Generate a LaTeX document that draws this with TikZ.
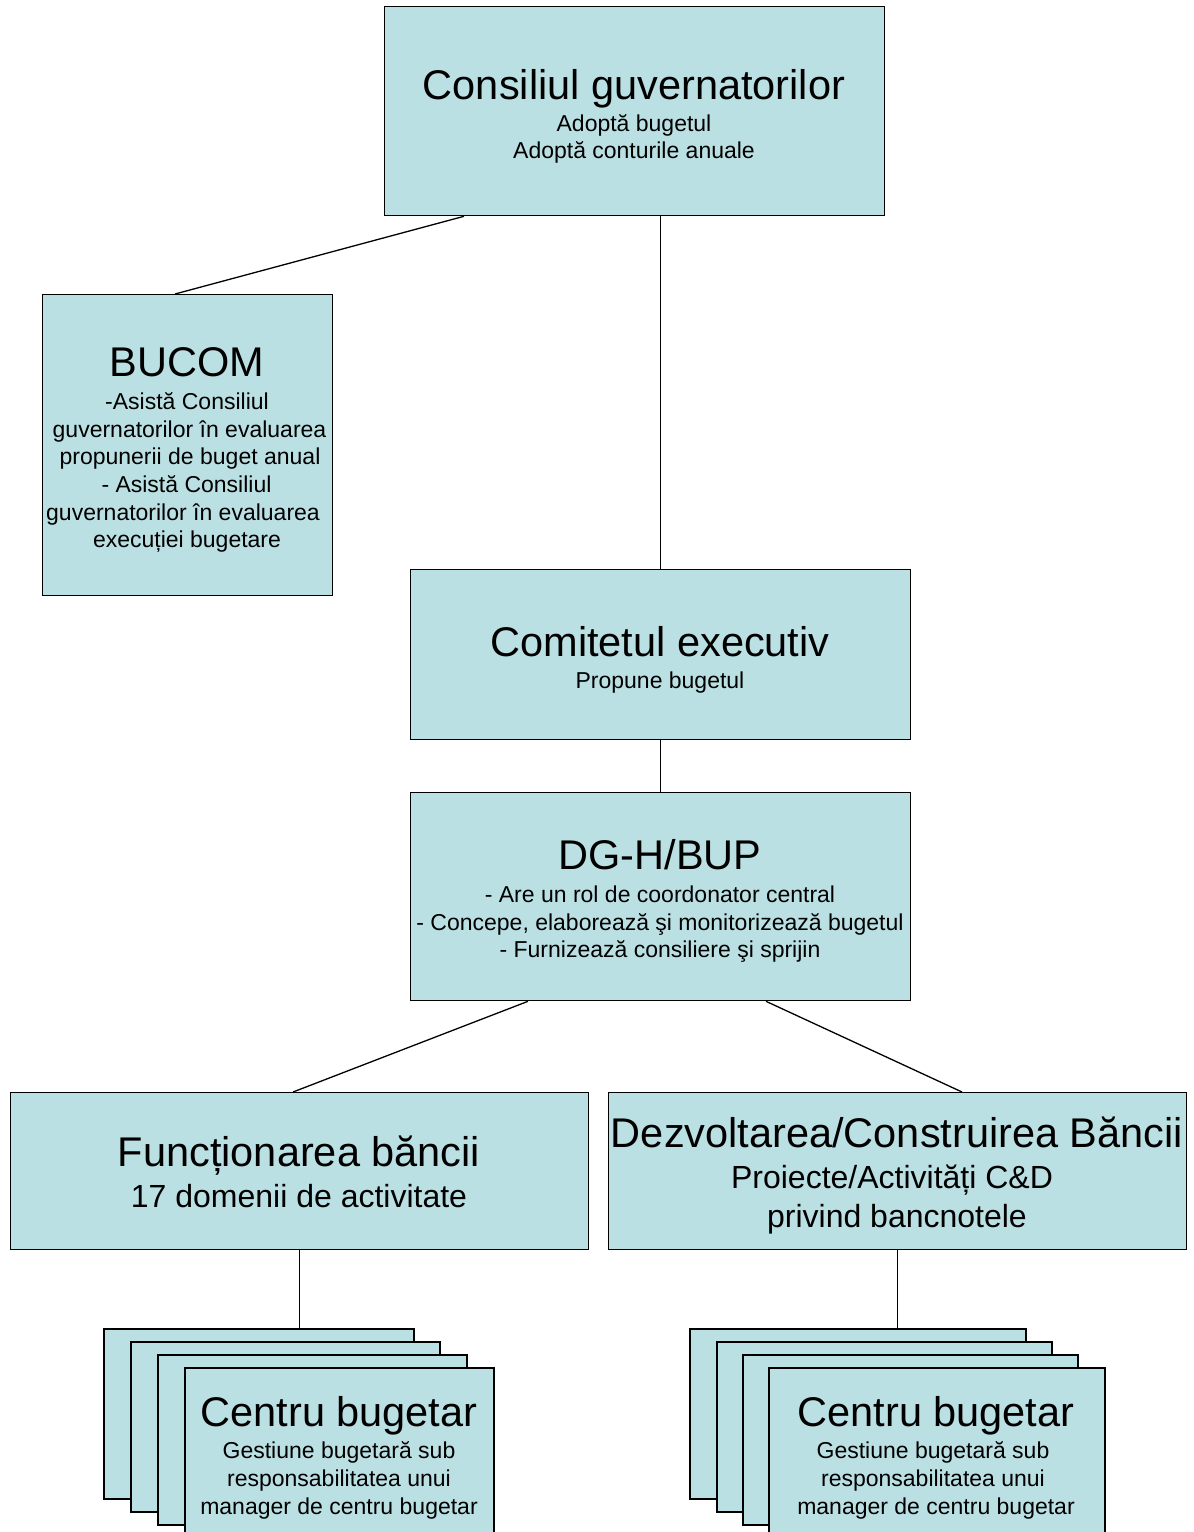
\documentclass[tikz,border=0pt]{standalone}
\usepackage{fontspec}
\setmainfont{Liberation Sans}
\usetikzlibrary{calc}
\definecolor{boxfill}{HTML}{BBE0E3}
\tikzset{
  box/.style={draw=black, fill=boxfill, line width=1.3pt, inner sep=0pt, anchor=north west},
  stackbox/.style={box, line width=2pt},
  conn/.style={draw=black, line width=1.3pt},
  ttl/.style={anchor=base, inner sep=0pt, font=\fontsize{41.5}{48}\selectfont},
  mid/.style={anchor=base, inner sep=0pt, font=\fontsize{32}{39}\selectfont},
  sub/.style={anchor=base, inner sep=0pt, font=\fontsize{23}{27.5}\selectfont}
}
\begin{document}
\begin{tikzpicture}[x=1pt,y=-1pt]
\useasboundingbox (0,0) rectangle (1194,1532);
% boxes
\node[box, minimum width=500, minimum height=209] (cg) at (384,6) {};
\node[box, minimum width=290, minimum height=301] (bu) at (42,294) {};
\node[box, minimum width=500, minimum height=170] (cm) at (410,569) {};
\node[box, minimum width=500, minimum height=208] (dg) at (410,792) {};
\node[box, minimum width=578, minimum height=157] (fn) at (10,1092) {};
\node[box, minimum width=578, minimum height=157] (dz) at (608,1092) {};
% left stack
\node[stackbox, minimum width=310, minimum height=170] (l1) at (103,1328) {};
\node[stackbox, minimum width=309, minimum height=170] (l2) at (130,1341) {};
\node[stackbox, minimum width=309, minimum height=170] (l3) at (157,1354) {};
\node[stackbox, minimum width=309, minimum height=172] (l4) at (184,1367) {};
% right stack
\node[stackbox, minimum width=336, minimum height=170] (r1) at (689,1328) {};
\node[stackbox, minimum width=335, minimum height=170] (r2) at (716,1341) {};
\node[stackbox, minimum width=335, minimum height=170] (r3) at (742,1354) {};
\node[stackbox, minimum width=336, minimum height=172] (r4) at (768,1367) {};
% connectors
\draw[conn] ($(cg.south west)+(80,0)$) -- ($(bu.north west)+(133,0)$);
\draw[conn] (cm.north |- cg.south) -- (cm.north);
\draw[conn] (cm.south) -- (dg.north);
\draw[conn] ($(dg.south west)+(118,0)$) -- ($(fn.north west)+(283,0)$);
\draw[conn] ($(dg.south west)+(356,0)$) -- ($(dz.north west)+(354,0)$);
\draw[conn] (fn.south) -- (fn.south |- l1.north);
\draw[conn] (dz.south) -- (dz.south |- r1.north);
% texts
\node[ttl] (cgt) at (634,99.5) {Consiliul guvernatorilor};
\node[sub] (cgs1) at (634,131) {Adoptă bugetul};
\node[sub] (cgs2) at (634,158) {Adoptă conturile anuale};

\node[ttl] (but) at (187,376.5) {BUCOM};
\node[sub] (bus1) at (187,409) {-Asistă Consiliul};
\node[sub] (bus2) at (189.5,437) {guvernatorilor în evaluarea};
\node[sub] (bus3) at (190,464.5) {propunerii de buget anual};
\node[sub] (bus4) at (186.5,492) {- Asistă Consiliul};
\node[sub] (bus5) at (183,520) {guvernatorilor în evaluarea};
\node[sub] (bus6) at (187,547.5) {execuției bugetare};

\node[ttl] (cmt) at (660,656.5) {Comitetul executiv};
\node[sub] (cms) at (660,688) {Propune bugetul};

\node[ttl] (dgt) at (660,869.5) {DG-H/BUP};
\node[sub] (dgs1) at (660,902) {- Are un rol de coordonator central};
\node[sub] (dgs2) at (660,930) {- Concepe, elaborează şi monitorizează bugetul};
\node[sub] (dgs3) at (660,957.5) {- Furnizează consiliere şi sprijin};

\node[ttl] (fnt) at (299,1166.5) {Funcționarea băncii};
\node[mid] (fns) at (299,1207) {17 domenii de activitate};

\node[ttl] (dzt) at (897,1147.5) {Dezvoltarea/Construirea Băncii};
\node[mid] (dzs1) at (892,1188) {Proiecte/Activități C\&D};
\node[mid] (dzs2) at (897,1227) {privind bancnotele};

\node[ttl] (lt) at (339,1426.5) {Centru bugetar};
\node[sub] (ls1) at (339,1458) {Gestiune bugetară sub};
\node[sub] (ls2) at (339,1486) {responsabilitatea unui};
\node[sub] (ls3) at (339,1514) {manager de centru bugetar};

\node[ttl] (rt) at (936,1426.5) {Centru bugetar};
\node[sub] (rs1) at (933,1458) {Gestiune bugetară sub};
\node[sub] (rs2) at (933,1486) {responsabilitatea unui};
\node[sub] (rs3) at (936,1514) {manager de centru bugetar};
\end{tikzpicture}
\end{document}
